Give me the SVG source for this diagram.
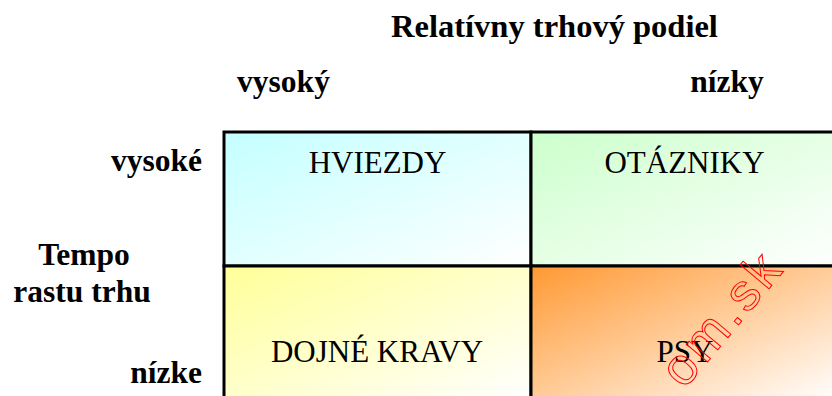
<svg xmlns="http://www.w3.org/2000/svg" width="832" height="396" viewBox="0 0 832 396">
<style>
.lbl{font-weight:bold;font-size:31.5px;fill:#000}
.cell{stroke:#000;stroke-width:3}
.ct{font-size:31px;fill:#000;text-anchor:middle}
.wm{font-size:52px;fill:none;stroke:#ff0000;stroke-width:1}
</style>
<defs>
<linearGradient id="gC" x1="0" y1="0" x2="1" y2="1"><stop offset="0" stop-color="#c4ffff"/><stop offset="1" stop-color="#ffffff"/></linearGradient>
<linearGradient id="gG" x1="0" y1="0" x2="1" y2="1"><stop offset="0" stop-color="#ccffcc"/><stop offset="1" stop-color="#ffffff"/></linearGradient>
<linearGradient id="gY" x1="0" y1="0" x2="1" y2="1"><stop offset="0" stop-color="#ffff99"/><stop offset="1" stop-color="#ffffff"/></linearGradient>
<linearGradient id="gO" x1="0" y1="0" x2="1" y2="1"><stop offset="0" stop-color="#ff9933"/><stop offset="1" stop-color="#ffffff"/></linearGradient>
</defs>
<g id="axis-labels" font-family="Liberation Serif, DejaVu Serif, serif">
<text class="lbl" x="554.5" y="37" text-anchor="middle" style="font-size:32.5px">Relatívny trhový podiel</text>
<text class="lbl" x="283.5" y="92" text-anchor="middle">vysoký</text>
<text class="lbl" x="727" y="92" text-anchor="middle">nízky</text>
<text class="lbl" x="202" y="171" text-anchor="end">vysoké</text>
<text class="lbl" x="84" y="265" text-anchor="middle">Tempo</text>
<text class="lbl" x="82" y="302" text-anchor="middle">rastu trhu</text>
<text class="lbl" x="202" y="383" text-anchor="end">nízke</text>
</g>
<g id="hviezdy" font-family="Liberation Serif, DejaVu Serif, serif">
<rect class="cell" x="224" y="132" width="307" height="134" fill="url(#gC)"/>
<text class="ct" x="377.5" y="173">HVIEZDY</text>
</g>
<g id="otazniky" font-family="Liberation Serif, DejaVu Serif, serif">
<rect class="cell" x="531" y="132" width="307" height="134" fill="url(#gG)"/>
<text class="ct" x="684.5" y="173">OTÁZNIKY</text>
</g>
<g id="dojne-kravy" font-family="Liberation Serif, DejaVu Serif, serif">
<rect class="cell" x="224" y="266" width="307" height="134" fill="url(#gY)"/>
<text class="ct" x="377" y="362">DOJNÉ KRAVY</text>
</g>
<g id="psy" font-family="Liberation Serif, DejaVu Serif, serif">
<rect class="cell" x="531" y="266" width="307" height="134" fill="url(#gO)"/>
<text class="ct" x="685" y="362">PSY</text>
</g>
<g id="connectors"></g>
<text class="wm" font-family="Liberation Sans, Arial, sans-serif" x="684" y="390" transform="rotate(-50 684 390)" letter-spacing="4">om.sk</text>
</svg>
